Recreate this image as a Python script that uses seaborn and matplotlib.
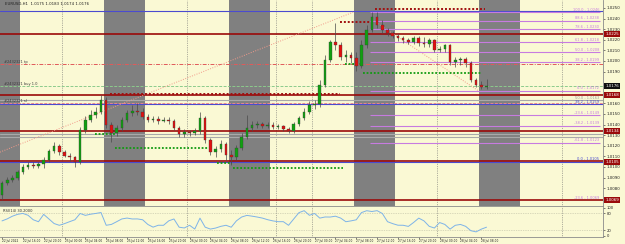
import numpy as np
import pandas as pd
import matplotlib
matplotlib.use("Agg")
import matplotlib.pyplot as plt
import matplotlib.transforms as mtransforms
import seaborn as sns

# ---------------- data (EURUSD H1) ----------------
opens = [1.0074, 1.0085, 1.0088, 1.0090, 1.0095, 1.0100, 1.0102, 1.0101, 1.0103, 1.0107,
         1.0115, 1.0120, 1.0114, 1.0110, 1.0109, 1.0105, 1.0135, 1.0144, 1.0149, 1.0152,
         1.0163, 1.0140, 1.0132, 1.0137, 1.0144, 1.0151, 1.0153, 1.0152, 1.0147, 1.0144,
         1.0145, 1.0143, 1.0144, 1.0143, 1.0137, 1.0131, 1.0133, 1.0132, 1.0134, 1.0146,
         1.0125, 1.0114, 1.0117, 1.0122, 1.0111, 1.0109, 1.0118, 1.0128, 1.0137, 1.0140,
         1.0141, 1.0139, 1.0140, 1.0138, 1.0139, 1.0136, 1.0134, 1.0141, 1.0146, 1.0152,
         1.0158, 1.0159, 1.0177, 1.0201, 1.0218, 1.0215, 1.0204, 1.0206, 1.0203, 1.0195,
         1.0215, 1.0229, 1.0241, 1.0234, 1.0229, 1.0226, 1.0224, 1.0222, 1.0220, 1.0218,
         1.0222, 1.0217, 1.0216, 1.0220, 1.0210, 1.0211, 1.0215, 1.0199, 1.0201, 1.0202,
         1.0198, 1.0182, 1.0177, 1.0175]
closes = [1.0085, 1.0088, 1.0090, 1.0095, 1.0100, 1.0102, 1.0101, 1.0103, 1.0107, 1.0115,
          1.0120, 1.0114, 1.0110, 1.0109, 1.0105, 1.0135, 1.0144, 1.0149, 1.0152, 1.0163,
          1.0140, 1.0132, 1.0137, 1.0144, 1.0151, 1.0153, 1.0152, 1.0147, 1.0144, 1.0145,
          1.0143, 1.0144, 1.0143, 1.0137, 1.0131, 1.0133, 1.0132, 1.0134, 1.0146, 1.0125,
          1.0114, 1.0117, 1.0122, 1.0111, 1.0109, 1.0118, 1.0128, 1.0137, 1.0140, 1.0141,
          1.0139, 1.0140, 1.0138, 1.0139, 1.0136, 1.0134, 1.0141, 1.0146, 1.0152, 1.0158,
          1.0159, 1.0177, 1.0201, 1.0218, 1.0215, 1.0204, 1.0206, 1.0203, 1.0195, 1.0215,
          1.0229, 1.0241, 1.0234, 1.0229, 1.0226, 1.0224, 1.0222, 1.0220, 1.0218, 1.0222,
          1.0217, 1.0216, 1.0220, 1.0210, 1.0211, 1.0215, 1.0199, 1.0201, 1.0202, 1.0198,
          1.0182, 1.0177, 1.0175, 1.0176]
highs = [1.0087, 1.0091, 1.0092, 1.0097, 1.0103, 1.0105, 1.0105, 1.0105, 1.0109, 1.0117,
         1.0124, 1.0122, 1.0116, 1.0113, 1.0110, 1.0138, 1.0148, 1.0154, 1.0157, 1.0168,
         1.0166, 1.0142, 1.0140, 1.0147, 1.0154, 1.0158, 1.0160, 1.0156, 1.0150, 1.0148,
         1.0148, 1.0147, 1.0147, 1.0145, 1.0139, 1.0136, 1.0135, 1.0137, 1.0152, 1.0148,
         1.0127, 1.0120, 1.0125, 1.0124, 1.0116, 1.0121, 1.0132, 1.0149, 1.0143, 1.0143,
         1.0142, 1.0142, 1.0142, 1.0141, 1.0140, 1.0138, 1.0142, 1.0148, 1.0156, 1.0162,
         1.0163, 1.0182, 1.0206, 1.0220, 1.0236, 1.0218, 1.0210, 1.0208, 1.0208, 1.0220,
         1.0234, 1.0246, 1.0246, 1.0239, 1.0231, 1.0228, 1.0225, 1.0224, 1.0222, 1.0224,
         1.0224, 1.0223, 1.0222, 1.0221, 1.0214, 1.0216, 1.0216, 1.0204, 1.0204, 1.0204,
         1.0200, 1.0184, 1.0181, 1.0183]
lows = [1.0069, 1.0083, 1.0086, 1.0088, 1.0093, 1.0098, 1.0099, 1.0099, 1.0099, 1.0105,
        1.0113, 1.0111, 1.0109, 1.0106, 1.0100, 1.0103, 1.0132, 1.0142, 1.0146, 1.0150,
        1.0137, 1.0124, 1.0129, 1.0134, 1.0142, 1.0148, 1.0149, 1.0145, 1.0142, 1.0142,
        1.0141, 1.0142, 1.0141, 1.0135, 1.0128, 1.0128, 1.0129, 1.0130, 1.0131, 1.0123,
        1.0111, 1.0109, 1.0114, 1.0107, 1.0102, 1.0107, 1.0116, 1.0126, 1.0134, 1.0137,
        1.0137, 1.0137, 1.0136, 1.0136, 1.0134, 1.0132, 1.0132, 1.0139, 1.0144, 1.0150,
        1.0155, 1.0157, 1.0175, 1.0199, 1.0210, 1.0201, 1.0199, 1.0198, 1.0191, 1.0193,
        1.0212, 1.0227, 1.0231, 1.0226, 1.0224, 1.0222, 1.0219, 1.0217, 1.0216, 1.0216,
        1.0214, 1.0213, 1.0213, 1.0208, 1.0208, 1.0208, 1.0196, 1.0194, 1.0196, 1.0194,
        1.0180, 1.0175, 1.0174, 1.0174]
rsi = [53.1, 60.4, 70.2, 77.0, 80.3, 73.5, 57.2, 50.1, 76.8, 60.2,
       43.5, 37.1, 43.2, 50.4, 57.3, 80.1, 73.2, 77.4, 80.2, 83.5,
       37.2, 40.3, 50.1, 60.2, 63.4, 60.1, 60.3, 57.2, 40.1, 30.4,
       37.3, 37.1, 53.2, 60.1, 30.2, 27.4, 37.2, 23.5, 63.1, 30.2,
       23.4, 27.1, 33.3, 37.2, 30.1, 53.4, 67.2, 73.1, 70.3, 67.1,
       63.2, 57.4, 53.1, 50.2, 50.3, 37.1, 60.2, 83.1, 90.2, 73.4,
       80.1, 63.2, 67.3, 67.1, 70.2, 63.4, 50.1, 53.2, 57.1, 83.3,
       90.1, 87.2, 90.3, 80.1, 50.2, 43.1, 37.4, 37.2, 33.1, 47.3,
       63.2, 53.1, 33.4, 27.2, 47.1, 40.3, 23.2, 37.1, 40.2, 33.3,
       17.4, 13.2, 23.1, 30.2]

time_labels = ["22 Jul 2022", "22 Jul 16:00", "22 Jul 20:00", "25 Jul 00:00", "25 Jul 04:00",
               "25 Jul 08:00", "25 Jul 12:00", "25 Jul 16:00", "25 Jul 20:00", "26 Jul 00:00",
               "26 Jul 04:00", "26 Jul 08:00", "26 Jul 12:00", "26 Jul 16:00", "26 Jul 20:00",
               "27 Jul 00:00", "27 Jul 04:00", "27 Jul 08:00", "27 Jul 12:00", "27 Jul 16:00",
               "27 Jul 20:00", "28 Jul 00:00", "28 Jul 04:00", "28 Jul 08:00"]
time_label_bars = [0, 4, 8, 12, 16, 20, 24, 28, 32, 36, 40, 44, 48, 52, 56, 60, 64, 68, 72,
                   76, 80, 84, 88, 92]
day_start_bars = [12, 36, 60, 84, 108]
session_start_bars = [-4, 20, 44, 68, 92]   # 08:00-16:00 sessions
session_hours = 8
marker_bar = 52.6

price_ticks = [1.0250, 1.0240, 1.0230, 1.0220, 1.0210, 1.0200, 1.0190, 1.0180, 1.0170,
               1.0160, 1.0150, 1.0140, 1.0130, 1.0120, 1.0110, 1.0100, 1.0090, 1.0080,
               1.0070]

# horizontal levels across the chart
level_prices = [1.0247, 1.0225, 1.0197, 1.0176, 1.0168, 1.0163, 1.0160, 1.0159,
                1.0134, 1.0131, 1.0128, 1.0106, 1.0105, 1.0069]
level_kinds = ["blue", "darkred", "tp", "buy", "darkred", "grey", "sl", "blue",
               "darkred", "grey", "grey", "darkred", "blue", "darkred"]

# order labels on the left
order_label_prices = [1.0197, 1.0176, 1.0160]
order_label_texts = ["#2432321 tp", "#2432321 buy 1.0", "#2432321 sl"]

# dotted resistance / support segments
res_start = [71.6, 64.9, 20.7]
res_end = [92.7, 71.0, 64.9]
res_price = [1.0249, 1.0237, 1.0169]
sup_start = [69.3, 65.8, 17.9, 21.7, 41.3, 44.3]
sup_end = [92.1, 69.1, 21.7, 39.5, 44.1, 65.5]
sup_price = [1.0189, 1.0197, 1.0131, 1.0118, 1.0104, 1.0099]

# trend lines
trend_x0 = [-0.4, 71.0]
trend_y0 = [1.0114, 1.0239]
trend_x1 = [67.4, 91.7]
trend_y1 = [1.0246, 1.0171]

# fibonacci levels (right part)
fib_start, fib_end = 70.6, 114.8
fib_prices = [1.0246, 1.0238, 1.0230, 1.0218, 1.0208, 1.0199, 1.0172, 1.0149, 1.0139, 1.0123]
fib_pcts = ["100.0", "88.6", "78.6", "61.8", "50.0", "38.2", "0.0", "-23.6", "-38.2", "-61.8"]
fib2_prices = [1.0163, 1.0159, 1.0105, 1.0069]
fib2_pcts = ["50.0", "38.2", "0.0", "-23.6"]
fib2_kinds = ["grey", "blue", "blue", "fib"]

box_prices = [1.0225, 1.0168, 1.0134, 1.0105, 1.0069]

# ---------------- style ----------------
BG = "#FAF9D4"
GREY_BAND = "#808080"
GREEN = "#10A010"
RED = "#E01010"
DARKRED = "#9A0A0A"
BLUE = "#4B4BD0"
FIB = "#C77BE0"

sns.set_style("white", {"axes.facecolor": BG, "figure.facecolor": BG})
plt.rcParams["font.family"] = ["DejaVu Sans"]

W, H = 625, 244


def rect(x0, y0, x1, y1):
    return [x0 / W, 1 - y1 / H, (x1 - x0) / W, (y1 - y0) / H]


fig = plt.figure(figsize=(W / 100, H / 100), dpi=100, facecolor=BG)
ax = fig.add_axes(rect(0, 0, 603, 206))
axr = fig.add_axes(rect(0, 207, 603, 236.5), sharex=ax)

df = pd.DataFrame({"bar": np.arange(len(closes)), "open": opens, "high": highs,
                   "low": lows, "close": closes, "rsi": rsi})

xlim = (-0.384, 115.36)
ax.set_xlim(*xlim)
ax.set_ylim(1.00632, 1.02575)
axr.set_ylim(-3.6, 103.6)

# sessions
for s in session_start_bars:
    ax.axvspan(s - 0.5, s + session_hours - 0.5, color=GREY_BAND, lw=0, zorder=0)

# grid verticals
for d in day_start_bars:
    for a in (ax, axr):
        a.axvline(d - 0.5, color="#6a6a6a", ls=(0, (1, 1.6)), lw=0.5, zorder=1)
for a in (ax, axr):
    a.axvline(marker_bar, color="#6a6a6a", ls=(0, (1, 1.6)), lw=0.5, zorder=1)

# horizontal levels
style = {
    "blue": dict(color=BLUE, lw=0.8, ls="-"),
    "darkred": dict(color=DARKRED, lw=1.2, ls="-"),
    "tp": dict(color="#E05A5A", lw=0.7, ls=(0, (4, 1.5, 1, 1.5))),
    "buy": dict(color="#8CCB8C", lw=0.7, ls=(0, (3, 1.5))),
    "grey": dict(color="#A9A9A9", lw=0.8, ls="-"),
    "sl": dict(color="#F08A8A", lw=0.7, ls=(0, (3, 1.5))),
}
for p, k in zip(level_prices, level_kinds):
    ax.axhline(p, zorder=2, **style[k])

# trend lines
for x0, y0, x1, y1 in zip(trend_x0, trend_y0, trend_x1, trend_y1):
    ax.plot([x0, x1], [y0, y1], color="#F29A8A", lw=0.7, ls=(0, (1, 1.5)), zorder=2)

# fib lines
for p, t in zip(fib_prices, fib_pcts):
    ax.hlines(p, fib_start, fib_end, color=FIB, lw=0.8, zorder=2)
    ax.text(114.6, p + 0.00003, f"{t} - {p:.4f}", color=FIB, fontsize=2.6,
            ha="right", va="bottom", zorder=6)
kcol = {"grey": "#9a9a9a", "blue": BLUE, "fib": FIB}
for p, t, k in zip(fib2_prices, fib2_pcts, fib2_kinds):
    ax.text(114.6, p + 0.00003, f"{t} - {p:.4f}", color=kcol[k], fontsize=2.6,
            ha="right", va="bottom", zorder=6)

# dotted segments
for s, e, p in zip(res_start, res_end, res_price):
    ax.hlines(p, s, e, color="#A01010", lw=1.4, ls=(0, (1, 1)), zorder=3)
for s, e, p in zip(sup_start, sup_end, sup_price):
    ax.hlines(p, s, e, color="#129A12", lw=1.3, ls=(0, (1, 1)), zorder=3)

# candles
up = df["close"] >= df["open"]
ax.vlines(df["bar"], df["low"], df["high"], color="#4a4a4a", lw=0.5, zorder=4)
body_bottom = np.minimum(df["open"], df["close"])
body_h = np.maximum((df["close"] - df["open"]).abs(), 0.00004)
ax.bar(df["bar"], body_h, bottom=body_bottom, width=0.5,
       color=np.where(up, GREEN, RED), edgecolor="#3a3a3a", linewidth=0.25, zorder=5)

# order labels
for p, t in zip(order_label_prices, order_label_texts):
    ax.text(0.4, p + 0.00004, t, fontsize=2.6, color="#3a3a3a", ha="left", va="bottom", zorder=6)

# title
last = df.iloc[-1]
ax.text(0.008, 0.988, f"EURUSD,H1  {last.open:.4f} {last.high:.4f} {last.low:.4f} {last.close:.4f}",
        transform=ax.transAxes, fontsize=2.8, color="#202020", ha="left", va="top", zorder=7)

# price axis
ax.yaxis.tick_right()
blocked = box_prices + [closes[-1]]
shown = [t for t in price_ticks if min(abs(t - b) for b in blocked) > 0.0004]
ax.set_yticks(shown)
ax.set_yticklabels([f"{t:.4f}" for t in shown])
ax.tick_params(axis="y", labelsize=2.9, length=1.5, width=0.4, pad=1, colors="#202020",
               right=True, left=False)
ax.tick_params(axis="x", bottom=False, labelbottom=False)

trans = mtransforms.blended_transform_factory(ax.transAxes, ax.transData)
for p in box_prices:
    ax.text(1.004, p, f"{p:.4f}", transform=trans, fontsize=2.9, color="white",
            ha="left", va="center", clip_on=False, zorder=8,
            bbox=dict(boxstyle="square,pad=0.25", fc=DARKRED, ec="none"))
ax.text(1.004, closes[-1], f"{closes[-1]:.4f}", transform=trans, fontsize=2.9, color="white",
        ha="left", va="center", clip_on=False, zorder=8,
        bbox=dict(boxstyle="square,pad=0.25", fc="#101010", ec="none"))

# RSI panel
for lvl in (80, 20):
    axr.axhline(lvl, color="#b8b8a0", lw=0.5, ls=(0, (1, 1.5)), zorder=1)
sns.lineplot(data=df, x="bar", y="rsi", ax=axr, color="#7DB3E8", lw=0.7, zorder=3)
axr.set_xlabel("")
axr.set_ylabel("")
axr.text(0.005, 0.93, f"RSI(14) {rsi[-1]:.4f}", transform=axr.transAxes, fontsize=2.6,
         color="#303030", ha="left", va="top")
axr.yaxis.tick_right()
axr.set_yticks([100, 80, 20, 0])
axr.set_yticklabels(["100", "80", "20", "0"])
axr.tick_params(axis="y", labelsize=2.7, length=1.5, width=0.4, pad=1, colors="#202020",
                right=True, left=False)
axr.set_xticks(time_label_bars)
axr.set_xticklabels(time_labels)
axr.tick_params(axis="x", labelsize=2.05, length=1.2, width=0.4, pad=0.4, colors="#202020",
                bottom=True)
for lab in axr.get_xticklabels():
    lab.set_horizontalalignment("left")
axr.set_xlim(*xlim)

for a in (ax, axr):
    a.set_facecolor(BG)
    for side in ("top", "left"):
        a.spines[side].set_visible(False)
    for side in ("right", "bottom"):
        a.spines[side].set_color("#8a8a8a")
        a.spines[side].set_linewidth(0.6)

fig.savefig("out.png", dpi=100, facecolor=BG)
